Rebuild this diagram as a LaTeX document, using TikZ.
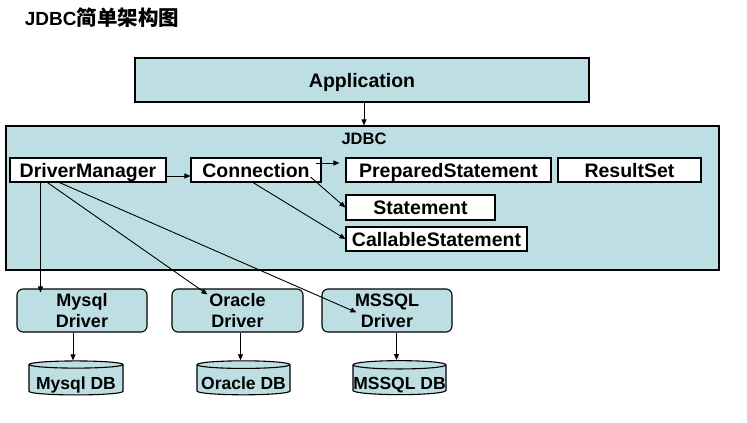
\documentclass[tikz,border=0pt]{standalone}
\usepackage{fontspec}
\setmainfont{Liberation Sans}
\newfontfamily\cjk{Noto Sans CJK SC}
\usetikzlibrary{positioning,arrows.meta,shapes.geometric}
\definecolor{jdbcblue}{RGB}{189,223,227}
\tikzset{box/.style={draw,fill=white,line width=1.1pt,minimum height=24pt,inner sep=0pt,text height=14pt,text depth=0pt,font=\bfseries\fontsize{19.5}{21}\selectfont},
drv/.style={draw,fill=jdbcblue,line width=1.1pt,rounded corners=6pt,minimum width=130pt,minimum height=43pt,inner sep=0pt,align=center,font=\bfseries\fontsize{18}{21}\selectfont},
db/.style={draw,fill=jdbcblue,line width=1.1pt,cylinder,shape border rotate=90,aspect=0.09,minimum width=94pt,minimum height=34pt,inner sep=0pt,text height=19pt,text depth=0pt,font=\bfseries\fontsize{17.5}{20}\selectfont}}

\begin{document}
\begin{tikzpicture}[x=1pt,y=-1pt,arr/.style={-{Triangle[length=6pt,width=5pt]},line width=0.9pt}]
		\useasboundingbox (0,0) rectangle (747,423);
		\node[font=\bfseries\fontsize{19}{21}\selectfont] (title) at (102,18) {JDBC{\cjk\fontsize{20.5}{22}\selectfont 简单架构图}};

		\node[box,fill=jdbcblue,minimum width=454pt,minimum height=44pt] (app) at (362,80) {Application};
		\node[draw,fill=jdbcblue,line width=1.1pt,minimum width=713pt,minimum height=144pt] (jdbc) at (362.5,198) {};
		\node[font=\bfseries\fontsize{16.5}{18}\selectfont] (jdbclabel) at (364,139) {JDBC};

		\node[box,minimum width=156pt] (dm) at (88,170) {DriverManager};
		\node[box,minimum width=130pt] (conn) at (256,170) {Connection};
		\node[box,minimum width=205pt] (prep) at (448.5,170) {PreparedStatement};
		\node[box,minimum width=143pt] (rs) at (629.5,170) {ResultSet};
		\node[box,minimum width=149pt,minimum height=25pt] (stmt) at (420.5,207.5) {Statement};
		\node[box,minimum width=181pt] (call) at (436.5,239) {CallableStatement};

		\node[drv] (mysqldrv) at (82,310.5) {Mysql\\Driver};
		\node[drv,minimum width=131pt] (oracledrv) at (237.5,310.5) {Oracle\\Driver};
		\node[drv] (mssqldrv) at (387,310.5) {MSSQL\\Driver};

		\node[db] (mysqldb) at (76,380) {Mysql DB};
		\node[db,minimum width=93pt] (oracledb) at (243.5,380) {Oracle DB};
		\node[db,minimum width=93pt] (mssqldb) at (399.5,380) {MSSQL DB};

		\draw[arr] (app.south -| jdbclabel) -- (jdbc.north -| jdbclabel);
		\draw[arr] ([yshift=-6pt]dm.east) -- ([yshift=-6pt]conn.west);
		\draw[arr,shorten >=6pt] ([xshift=-6pt,yshift=7pt]conn.east) -- ([yshift=7pt]prep.west);
		\draw[arr] ([xshift=-11pt,yshift=-7pt]conn.east) -- (stmt.west);
		\draw[arr] ([xshift=-3pt]conn.south) -- (call.west);
		\draw[arr] ([xshift=31pt]dm.south west) -- ([xshift=24pt,yshift=-4pt]mysqldrv.north west);
		\draw[arr] ([xshift=38pt]dm.south west) -- ([xshift=36pt,yshift=-6pt]oracledrv.north west);
		\draw[arr] ([xshift=50pt]dm.south west) -- ([xshift=35pt,yshift=-24pt]mssqldrv.north west);
		\draw[arr] ([xshift=-3pt]mysqldb.north |- mysqldrv.south) -- ([xshift=-3pt]mysqldb.north);
		\draw[arr] ([xshift=-3pt]oracledb.north |- oracledrv.south) -- ([xshift=-3pt]oracledb.north);
		\draw[arr] ([xshift=-3pt]mssqldb.north |- mssqldrv.south) -- ([xshift=-3pt]mssqldb.north);
	\end{tikzpicture}
\end{document}
